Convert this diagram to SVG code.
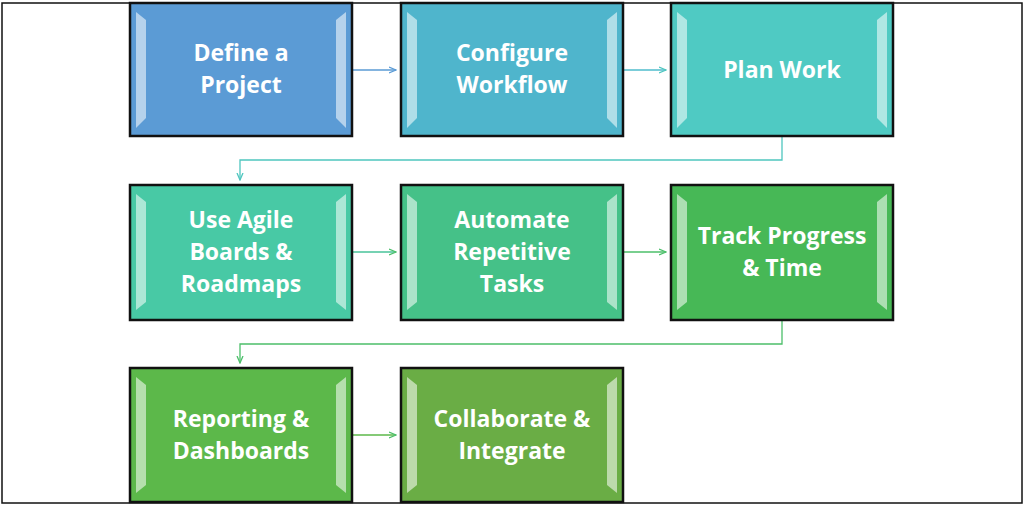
<svg xmlns="http://www.w3.org/2000/svg" width="1024" height="505" viewBox="0 0 1024 505">
<style>
.b{stroke:#111;stroke-width:2.5}
.s{fill:#fff;opacity:0.55}
.t{font-family:"Open Sans",sans-serif;font-weight:bold;font-size:23px;fill:#fff;text-anchor:middle}
.c{fill:none;stroke-width:1.3}
</style>
<defs>
<marker id="ab" markerWidth="8" markerHeight="8" refX="7" refY="4" orient="auto" markerUnits="userSpaceOnUse"><path d="M0,1 L7,4 L0,7" fill="none" stroke="#5b9bd5" stroke-width="1.3"/></marker>
<marker id="at" markerWidth="8" markerHeight="8" refX="7" refY="4" orient="auto" markerUnits="userSpaceOnUse"><path d="M0,1 L7,4 L0,7" fill="none" stroke="#4fc6bf" stroke-width="1.3"/></marker>
<marker id="ag" markerWidth="8" markerHeight="8" refX="7" refY="4" orient="auto" markerUnits="userSpaceOnUse"><path d="M0,1 L7,4 L0,7" fill="none" stroke="#4cbf6a" stroke-width="1.3"/></marker>
</defs>
<rect width="1024" height="505" fill="#fff"/>
<rect x="2" y="3" width="1020" height="500" fill="none" stroke="#111" stroke-width="1.5"/>
<g id="connectors">
<path class="c" stroke="#5b9bd5" d="M352,70 H396" marker-end="url(#ab)"/>
<path class="c" stroke="#4fbccc" d="M623,70 H666" marker-end="url(#at)"/>
<path class="c" stroke="#4fc6bf" d="M782,136 V160 H240 V180" marker-end="url(#at)"/>
<path class="c" stroke="#48c39a" d="M352,252 H396" marker-end="url(#ag)"/>
<path class="c" stroke="#4cbf6a" d="M623,252 H666" marker-end="url(#ag)"/>
<path class="c" stroke="#4cbf6a" d="M782,320 V344 H240 V363" marker-end="url(#ag)"/>
<path class="c" stroke="#5cb84a" d="M352,435 H396" marker-end="url(#ag)"/>
</g>
<g id="n1"><rect class="b" x="130" y="3" width="222" height="133" fill="#5b9bd5"/><polygon class="s" points="136,12 146,20 146,118 136,128"/><polygon class="s" points="346,12 336,20 336,118 346,128"/><text class="t" x="241" y="61">Define a</text><text class="t" x="241" y="93">Project</text></g>
<g id="n2"><rect class="b" x="401" y="3" width="222" height="133" fill="#4fb5cc"/><polygon class="s" points="407,12 417,20 417,118 407,128"/><polygon class="s" points="617,12 607,20 607,118 617,128"/><text class="t" x="512" y="61">Configure</text><text class="t" x="512" y="93">Workflow</text></g>
<g id="n3"><rect class="b" x="671" y="3" width="222" height="133" fill="#4fcac3"/><polygon class="s" points="677,12 687,20 687,118 677,128"/><polygon class="s" points="887,12 877,20 877,118 887,128"/><text class="t" x="782" y="78">Plan Work</text></g>
<g id="n4"><rect class="b" x="130" y="185" width="222" height="135" fill="#48c9a5"/><polygon class="s" points="136,194 146,202 146,302 136,310"/><polygon class="s" points="346,194 336,202 336,302 346,310"/><text class="t" x="241" y="228">Use Agile</text><text class="t" x="241" y="260">Boards &amp;</text><text class="t" x="241" y="292">Roadmaps</text></g>
<g id="n5"><rect class="b" x="401" y="185" width="222" height="135" fill="#45c188"/><polygon class="s" points="407,194 417,202 417,302 407,310"/><polygon class="s" points="617,194 607,202 607,302 617,310"/><text class="t" x="512" y="228">Automate</text><text class="t" x="512" y="260">Repetitive</text><text class="t" x="512" y="292">Tasks</text></g>
<g id="n6"><rect class="b" x="671" y="185" width="222" height="135" fill="#47b856"/><polygon class="s" points="677,194 687,202 687,302 677,310"/><polygon class="s" points="887,194 877,202 877,302 887,310"/><text class="t" x="782" y="244">Track Progress</text><text class="t" x="782" y="276">&amp; Time</text></g>
<g id="n7"><rect class="b" x="130" y="368" width="222" height="134" fill="#5cb84a"/><polygon class="s" points="136,377 146,385 146,485 136,493"/><polygon class="s" points="346,377 336,385 336,485 346,493"/><text class="t" x="241" y="427">Reporting &amp;</text><text class="t" x="241" y="459">Dashboards</text></g>
<g id="n8"><rect class="b" x="401" y="368" width="222" height="134" fill="#6aad45"/><polygon class="s" points="407,377 417,385 417,485 407,493"/><polygon class="s" points="617,377 607,385 607,485 617,493"/><text class="t" x="512" y="427">Collaborate &amp;</text><text class="t" x="512" y="459">Integrate</text></g>
</svg>
